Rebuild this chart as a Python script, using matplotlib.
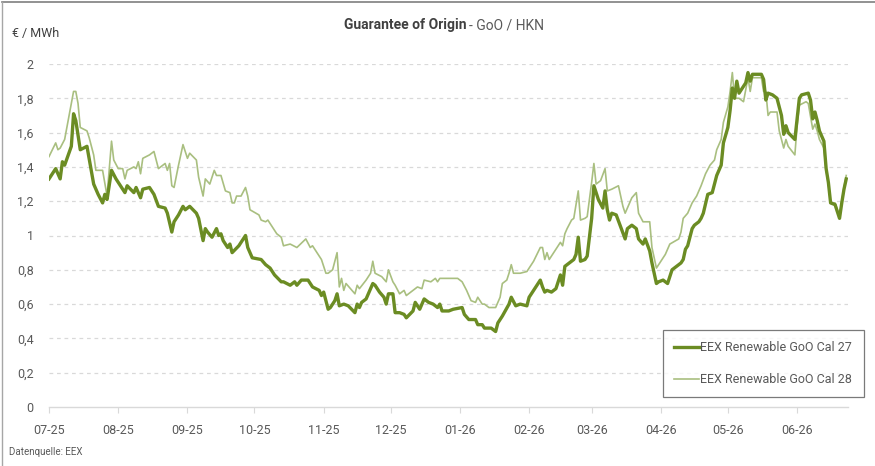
import pandas as pd
import matplotlib.pyplot as plt
import matplotlib.dates as mdates
from matplotlib.lines import Line2D

# EEX Renewable GoO Cal 27 (€/MWh)
cal27_dates = [
    "2025-07-01", "2025-07-04", "2025-07-06", "2025-07-07", "2025-07-08", "2025-07-11", "2025-07-12",
    "2025-07-13", "2025-07-15", "2025-07-18", "2025-07-21", "2025-07-23", "2025-07-25", "2025-07-26",
    "2025-07-27", "2025-07-29", "2025-07-31", "2025-08-02", "2025-08-04", "2025-08-05", "2025-08-08",
    "2025-08-09", "2025-08-11", "2025-08-12", "2025-08-15", "2025-08-17", "2025-08-19", "2025-08-22",
    "2025-08-23", "2025-08-25", "2025-08-26", "2025-08-28", "2025-08-30", "2025-08-31", "2025-09-02",
    "2025-09-05", "2025-09-06", "2025-09-08", "2025-09-09", "2025-09-10", "2025-09-12", "2025-09-14",
    "2025-09-15", "2025-09-16", "2025-09-17", "2025-09-19", "2025-09-20", "2025-09-21", "2025-09-24",
    "2025-09-27", "2025-09-28", "2025-09-30", "2025-10-04", "2025-10-06", "2025-10-08", "2025-10-10",
    "2025-10-13", "2025-10-14", "2025-10-17", "2025-10-19", "2025-10-20", "2025-10-22", "2025-10-25",
    "2025-10-27", "2025-10-30", "2025-10-31", "2025-11-01", "2025-11-03", "2025-11-04", "2025-11-06",
    "2025-11-07", "2025-11-08", "2025-11-10", "2025-11-12", "2025-11-15", "2025-11-16", "2025-11-17",
    "2025-11-18", "2025-11-20", "2025-11-21", "2025-11-23", "2025-11-24", "2025-11-26", "2025-11-28",
    "2025-11-29", "2025-11-30", "2025-12-02", "2025-12-03", "2025-12-05", "2025-12-07", "2025-12-08",
    "2025-12-11", "2025-12-12", "2025-12-14", "2025-12-16", "2025-12-18", "2025-12-20", "2025-12-22",
    "2025-12-23", "2025-12-24", "2025-12-27", "2025-12-29", "2026-01-02", "2026-01-03", "2026-01-05",
    "2026-01-08", "2026-01-09", "2026-01-11", "2026-01-12", "2026-01-15", "2026-01-17", "2026-01-18",
    "2026-01-20", "2026-01-23", "2026-01-24", "2026-01-26", "2026-01-28", "2026-01-31", "2026-02-01",
    "2026-02-03", "2026-02-04", "2026-02-06", "2026-02-07", "2026-02-08", "2026-02-09", "2026-02-11",
    "2026-02-13", "2026-02-14", "2026-02-15", "2026-02-16", "2026-02-17", "2026-02-19", "2026-02-21",
    "2026-02-22", "2026-02-23", "2026-02-24", "2026-02-26", "2026-02-27", "2026-03-01", "2026-03-02",
    "2026-03-03", "2026-03-04", "2026-03-06", "2026-03-07", "2026-03-08", "2026-03-09", "2026-03-10",
    "2026-03-12", "2026-03-14", "2026-03-16", "2026-03-17", "2026-03-19", "2026-03-21", "2026-03-22",
    "2026-03-24", "2026-03-25", "2026-03-27", "2026-03-28", "2026-03-30", "2026-03-31", "2026-04-02",
    "2026-04-04", "2026-04-06", "2026-04-09", "2026-04-10", "2026-04-11", "2026-04-12", "2026-04-13",
    "2026-04-15", "2026-04-16", "2026-04-18", "2026-04-19", "2026-04-20", "2026-04-22", "2026-04-24",
    "2026-04-26", "2026-04-28", "2026-04-29", "2026-05-01", "2026-05-02", "2026-05-03", "2026-05-04",
    "2026-05-05", "2026-05-06", "2026-05-07", "2026-05-09", "2026-05-10", "2026-05-11", "2026-05-12",
    "2026-05-16", "2026-05-17", "2026-05-18", "2026-05-19", "2026-05-21", "2026-05-23", "2026-05-25",
    "2026-05-26", "2026-05-27", "2026-05-28", "2026-05-31", "2026-06-01", "2026-06-02", "2026-06-03",
    "2026-06-06", "2026-06-07", "2026-06-08", "2026-06-09", "2026-06-10", "2026-06-11", "2026-06-13",
    "2026-06-14", "2026-06-15", "2026-06-16", "2026-06-18", "2026-06-20", "2026-06-21", "2026-06-22",
    "2026-06-23",
]
cal27_values = [
    1.33, 1.39, 1.33, 1.43, 1.41, 1.52, 1.71,
    1.67, 1.50, 1.52, 1.30, 1.24, 1.19, 1.24,
    1.21, 1.38, 1.33, 1.29, 1.25, 1.29, 1.25,
    1.28, 1.22, 1.27, 1.28, 1.24, 1.17, 1.16,
    1.13, 1.02, 1.08, 1.12, 1.17, 1.15, 1.17,
    1.13, 1.10, 0.97, 1.04, 1.02, 0.99, 1.04,
    1.00, 1.01, 0.97, 0.93, 0.95, 0.90, 0.94,
    1.00, 0.93, 0.87, 0.86, 0.83, 0.81, 0.77,
    0.73, 0.73, 0.71, 0.73, 0.71, 0.74, 0.74,
    0.70, 0.68, 0.65, 0.67, 0.57, 0.58, 0.62,
    0.66, 0.59, 0.60, 0.59, 0.55, 0.60, 0.58,
    0.61, 0.63, 0.66, 0.72, 0.71, 0.67, 0.64,
    0.60, 0.66, 0.66, 0.55, 0.55, 0.54, 0.52,
    0.56, 0.61, 0.57, 0.63, 0.61, 0.60, 0.58,
    0.60, 0.56, 0.56, 0.57, 0.58, 0.54, 0.51,
    0.51, 0.48, 0.48, 0.46, 0.46, 0.44, 0.49,
    0.53, 0.60, 0.64, 0.59, 0.60, 0.59, 0.64,
    0.68, 0.70, 0.74, 0.70, 0.67, 0.68, 0.67,
    0.69, 0.73, 0.77, 0.71, 0.82, 0.84, 0.86,
    0.89, 0.99, 0.85, 0.86, 0.88, 1.10, 1.29,
    1.25, 1.21, 1.16, 1.26, 1.15, 1.09, 1.13,
    1.12, 1.05, 0.98, 1.04, 1.06, 1.04, 0.98,
    0.95, 0.98, 0.91, 0.84, 0.72, 0.73, 0.74,
    0.72, 0.80, 0.83, 0.84, 0.86, 0.92, 0.94,
    1.04, 1.06, 1.08, 1.10, 1.13, 1.24, 1.25,
    1.35, 1.41, 1.54, 1.63, 1.73, 1.86, 1.80,
    1.90, 1.83, 1.85, 1.89, 1.95, 1.90, 1.94,
    1.94, 1.91, 1.79, 1.83, 1.82, 1.80, 1.70,
    1.59, 1.64, 1.60, 1.56, 1.68, 1.80, 1.82,
    1.83, 1.79, 1.68, 1.72, 1.67, 1.61, 1.55,
    1.39, 1.31, 1.19, 1.18, 1.10, 1.19, 1.27,
    1.33,
]

# EEX Renewable GoO Cal 28 (€/MWh)
cal28_dates = [
    "2025-07-01", "2025-07-04", "2025-07-05", "2025-07-06", "2025-07-08", "2025-07-10", "2025-07-12",
    "2025-07-13", "2025-07-14", "2025-07-15", "2025-07-18", "2025-07-19", "2025-07-21", "2025-07-22",
    "2025-07-25", "2025-07-27", "2025-07-29", "2025-07-30", "2025-08-01", "2025-08-03", "2025-08-04",
    "2025-08-05", "2025-08-08", "2025-08-09", "2025-08-10", "2025-08-11", "2025-08-12", "2025-08-15",
    "2025-08-17", "2025-08-19", "2025-08-22", "2025-08-23", "2025-08-24", "2025-08-25", "2025-08-26",
    "2025-08-28", "2025-08-30", "2025-09-01", "2025-09-02", "2025-09-05", "2025-09-06", "2025-09-08",
    "2025-09-09", "2025-09-11", "2025-09-13", "2025-09-14", "2025-09-16", "2025-09-18", "2025-09-20",
    "2025-09-21", "2025-09-22", "2025-09-23", "2025-09-25", "2025-09-27", "2025-09-28", "2025-09-29",
    "2025-10-03", "2025-10-04", "2025-10-06", "2025-10-07", "2025-10-09", "2025-10-11", "2025-10-13",
    "2025-10-14", "2025-10-17", "2025-10-20", "2025-10-24", "2025-10-26", "2025-10-27", "2025-10-29",
    "2025-10-31", "2025-11-02", "2025-11-03", "2025-11-05", "2025-11-07", "2025-11-08", "2025-11-09",
    "2025-11-10", "2025-11-11", "2025-11-13", "2025-11-15", "2025-11-16", "2025-11-17", "2025-11-20",
    "2025-11-22", "2025-11-23", "2025-11-24", "2025-11-27", "2025-11-29", "2025-11-30", "2025-12-02",
    "2025-12-03", "2025-12-05", "2025-12-07", "2025-12-08", "2025-12-11", "2025-12-13", "2025-12-15",
    "2025-12-16", "2025-12-19", "2025-12-21", "2025-12-22", "2025-12-23", "2025-12-31", "2026-01-02",
    "2026-01-04", "2026-01-06", "2026-01-08", "2026-01-09", "2026-01-11", "2026-01-12", "2026-01-14",
    "2026-01-17", "2026-01-19", "2026-01-20", "2026-01-22", "2026-01-23", "2026-01-24", "2026-01-25",
    "2026-01-28", "2026-01-31", "2026-02-03", "2026-02-06", "2026-02-07", "2026-02-08", "2026-02-09",
    "2026-02-10", "2026-02-12", "2026-02-15", "2026-02-16", "2026-02-17", "2026-02-18", "2026-02-20",
    "2026-02-21", "2026-02-23", "2026-02-24", "2026-02-26", "2026-02-27", "2026-03-01", "2026-03-02",
    "2026-03-03", "2026-03-05", "2026-03-07", "2026-03-08", "2026-03-10", "2026-03-13", "2026-03-15",
    "2026-03-16", "2026-03-18", "2026-03-19", "2026-03-21", "2026-03-22", "2026-03-24", "2026-03-27",
    "2026-03-28", "2026-03-30", "2026-03-31", "2026-04-03", "2026-04-05", "2026-04-09", "2026-04-10",
    "2026-04-11", "2026-04-13", "2026-04-15", "2026-04-17", "2026-04-19", "2026-04-21", "2026-04-23",
    "2026-04-25", "2026-04-26", "2026-04-28", "2026-04-29", "2026-05-01", "2026-05-02", "2026-05-03",
    "2026-05-04", "2026-05-06", "2026-05-08", "2026-05-10", "2026-05-11", "2026-05-12", "2026-05-16",
    "2026-05-17", "2026-05-18", "2026-05-19", "2026-05-20", "2026-05-23", "2026-05-24", "2026-05-26",
    "2026-05-27", "2026-05-28", "2026-05-31", "2026-06-01", "2026-06-02", "2026-06-05", "2026-06-06",
    "2026-06-08", "2026-06-09", "2026-06-10", "2026-06-11", "2026-06-13", "2026-06-14", "2026-06-15",
    "2026-06-16", "2026-06-18", "2026-06-20", "2026-06-21", "2026-06-22", "2026-06-23",
]
cal28_values = [
    1.46, 1.54, 1.50, 1.51, 1.56, 1.70, 1.84,
    1.84, 1.77, 1.63, 1.61, 1.57, 1.47, 1.38,
    1.38, 1.23, 1.55, 1.44, 1.39, 1.39, 1.33,
    1.38, 1.40, 1.39, 1.43, 1.36, 1.45, 1.47,
    1.49, 1.39, 1.42, 1.38, 1.42, 1.29, 1.28,
    1.41, 1.53, 1.45, 1.48, 1.44, 1.34, 1.23,
    1.33, 1.30, 1.38, 1.35, 1.35, 1.26, 1.25,
    1.19, 1.19, 1.23, 1.23, 1.28, 1.23, 1.15,
    1.12, 1.09, 1.08, 1.09, 1.05, 1.01, 0.99,
    0.94, 0.95, 0.93, 0.98, 0.93, 0.94, 0.90,
    0.86, 0.78, 0.78, 0.80, 0.90, 0.70, 0.75,
    0.68, 0.72, 0.69, 0.66, 0.71, 0.69, 0.74,
    0.78, 0.85, 0.78, 0.76, 0.73, 0.80, 0.73,
    0.71, 0.66, 0.68, 0.65, 0.68, 0.70, 0.69,
    0.74, 0.73, 0.75, 0.73, 0.75, 0.75, 0.73,
    0.68, 0.62, 0.61, 0.64, 0.60, 0.60, 0.58,
    0.58, 0.64, 0.72, 0.74, 0.78, 0.83, 0.78,
    0.78, 0.79, 0.85, 0.93, 0.93, 0.86, 0.90,
    0.86, 0.90, 0.96, 0.94, 1.01, 1.04, 1.09,
    1.10, 1.26, 1.09, 1.10, 1.11, 1.31, 1.42,
    1.30, 1.32, 1.39, 1.26, 1.27, 1.29, 1.17,
    1.13, 1.19, 1.22, 1.25, 1.13, 1.08, 1.08,
    0.93, 0.81, 0.83, 0.89, 0.95, 0.98, 1.02,
    1.10, 1.13, 1.19, 1.23, 1.29, 1.36, 1.41,
    1.44, 1.50, 1.56, 1.66, 1.75, 1.84, 1.95,
    1.80, 1.80, 1.78, 1.92, 1.84, 1.92, 1.92,
    1.84, 1.84, 1.70, 1.72, 1.72, 1.61, 1.51,
    1.56, 1.52, 1.47, 1.64, 1.76, 1.78, 1.77,
    1.62, 1.65, 1.61, 1.56, 1.51, 1.38, 1.30,
    1.19, 1.19, 1.11, 1.20, 1.28, 1.35,
]

y_ticks = [0, 0.2, 0.4, 0.6, 0.8, 1.0, 1.2, 1.4, 1.6, 1.8, 2.0]

dark_green = "#6b8c23"
light_green = "#a9bf80"
grey_text = "#595959"
grid_grey = "#d9d9d9"

plt.rcParams["font.family"] = ["Roboto", "DejaVu Sans"]

W, H = 875, 466
fig = plt.figure(figsize=(W / 100, H / 100), dpi=100)
ax = fig.add_axes([49 / W, 1 - 407 / H, (848 - 49) / W, (407 - 64) / H])

x27 = pd.to_datetime(cal27_dates)
x28 = pd.to_datetime(cal28_dates)
ax.plot(x28, cal28_values, color=light_green, lw=1.2, label="EEX Renewable GoO Cal 28", zorder=3)
ax.plot(x27, cal27_values, color=dark_green, lw=2.4, label="EEX Renewable GoO Cal 27",
        solid_joinstyle="round", zorder=4)

ax.set_xlim(pd.Timestamp("2025-07-01"), pd.Timestamp("2026-06-23 19:00"))
ax.set_ylim(0, 2)

# y axis with comma decimals
ax.set_yticks(y_ticks)
ax.set_yticklabels([("%g" % v).replace(".", ",") for v in y_ticks])
for v in y_ticks[1:]:
    ax.axhline(v, color=grid_grey, lw=0.9, ls=(0, (3, 3)), zorder=1)

ax.xaxis.set_major_locator(mdates.MonthLocator())
ax.xaxis.set_major_formatter(mdates.DateFormatter("%m-%y"))

for s in ["top", "right", "left"]:
    ax.spines[s].set_visible(False)
ax.spines["bottom"].set_color(grid_grey)
ax.spines["bottom"].set_linewidth(1.0)
ax.tick_params(axis="x", colors=grid_grey, length=4, width=0.8, pad=8, labelcolor=grey_text, labelsize=9)
ax.tick_params(axis="y", length=0, pad=11, labelcolor=grey_text, labelsize=9)

handles, labels = ax.get_legend_handles_labels()
leg = fig.legend(handles[::-1], labels[::-1], loc="upper left",
                 bbox_to_anchor=(663 / W, 1 - 330 / H), frameon=True, fancybox=False,
                 fontsize=9, labelcolor=grey_text, handlelength=2.0, handletextpad=0.1,
                 labelspacing=1.5, borderpad=0.9, borderaxespad=0)
leg.get_frame().set_edgecolor(grey_text)
leg.get_frame().set_linewidth(0.9)

# titles and annotations
fig.text(466 / W, 1 - 25 / H, "Guarantee of Origin", ha="right", va="center",
         fontsize=10, fontweight="bold", color="#404040")
fig.text(469 / W, 1 - 25 / H, "- GoO / HKN", ha="left", va="center", fontsize=10, color=grey_text)
fig.text(12 / W, 1 - 33 / H, "€ / MWh", ha="left", va="center", fontsize=9, color="#404040")
fig.text(9 / W, 1 - 452 / H, "Datenquelle: EEX", ha="left", va="center", fontsize=7, color=grey_text)

# frame lines at top and left
fig.add_artist(Line2D([1.5 / W, 1], [1 - 1.5 / H, 1 - 1.5 / H], color="#7f7f7f", lw=1.2))
fig.add_artist(Line2D([1.5 / W, 1.5 / W], [0, 1 - 1.5 / H], color="#a6a6a6", lw=1.0))

fig.savefig("out.png", dpi=100)
